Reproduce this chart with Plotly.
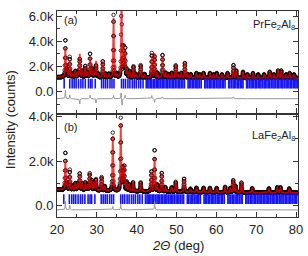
import numpy as np
import plotly.graph_objects as go
from plotly.subplots import make_subplots

# ---------------- data ----------------
# two-theta sampling of the measured pattern (deg)
tth_start, tth_stop, tth_step = 20.0, 80.5, 0.04

# PrFe2Al8 (panel a): background knots and peak list (pos deg, height counts above bg)
pr_bg_pos = [20, 40, 60, 80.5]
pr_bg_val = [1150, 1100, 1080, 1080]
pr_peak_pos = [22.1, 22.5, 23.2, 23.9, 24.6, 25.2, 25.7, 26.3, 27.1, 27.6, 28.3, 28.8,
               29.3, 29.8, 30.3, 31.5, 32.2, 33.0, 34.2, 35.0, 36.2, 36.7, 37.1, 37.6,
               38.2, 39.2, 39.8, 41.0, 42.0, 43.8, 44.5, 45.2, 46.5, 47.3, 48.0, 48.8,
               49.8, 50.4, 51.2, 52.1, 52.8, 53.6, 55.0, 55.8, 56.8, 58.4, 59.3, 60.1,
               61.4, 62.8, 64.3, 65.0, 66.7, 67.8, 69.2, 70.5, 72.0, 73.4, 74.4, 75.5,
               76.3, 77.5, 78.4, 79.5]
pr_peak_int = [2300, 600, 1300, 300, 500, 400, 1900, 500, 900, 400, 1600, 700,
               500, 1300, 300, 1300, 300, 300, 4700, 300, 6500, 2400, 2000, 600,
               500, 900, 300, 1000, 300, 1700, 2000, 400, 1700, 400, 300, 400,
               1000, 300, 400, 1200, 300, 300, 400, 300, 400, 400, 300, 400,
               300, 400, 900, 600, 500, 300, 400, 300, 300, 500, 300, 600,
               600, 300, 400, 300]
# residual (obs - calc) features: position, amplitude
pr_res_pos = [22.1, 23.2, 25.7, 28.3, 29.8, 34.2, 36.1, 36.35, 37.1, 43.8, 44.5, 46.5, 64.3]
pr_res_amp = [700, 300, -450, 300, -350, 250, 500, -550, 300, 250, -300, 150, 150]
pr_diff_offset = -550
pr_bragg_y = 650

# LaFe2Al8 (panel b)
la_bg_pos = [20, 40, 60, 80.5]
la_bg_val = [720, 650, 600, 580]
la_peak_pos = [22.1, 22.5, 23.2, 24.0, 24.6, 25.2, 25.7, 26.3, 27.1, 27.6, 28.2, 28.7,
               29.3, 29.8, 31.2, 32.0, 34.0, 36.0, 36.5, 36.9, 37.5, 38.1, 39.1, 41.0,
               43.7, 44.5, 45.2, 46.3, 47.2, 48.8, 49.8, 51.9, 53.5, 55.0, 56.8, 58.4,
               60.1, 62.2, 63.5, 64.25, 64.8, 66.3, 69.0, 73.2, 75.3, 76.1, 78.3]
la_peak_int = [1300, 300, 700, 200, 300, 300, 750, 300, 350, 250, 750, 450,
               350, 500, 600, 200, 2450, 3000, 1000, 1100, 400, 300, 400, 400,
               900, 1500, 300, 850, 200, 200, 450, 600, 150, 200, 200, 200,
               200, 250, 200, 550, 300, 450, 200, 200, 250, 250, 200]
la_res_pos = [22.1, 23.2, 34.0, 36.0, 44.5]
la_res_amp = [400, 200, 150, 250, 400]
la_diff_offset = -180
la_bragg_y = 300

# Bragg reflection positions (deg)
pr_bragg = [21.8, 23.2, 23.8, 24.3, 24.8, 25.4, 26.0, 26.5, 27.1, 27.9, 28.4, 28.8, 29.6,
            31.2, 31.7, 32.2, 32.7, 33.3, 33.8, 34.3, 36.2, 36.7, 37.2, 37.8, 38.3, 38.9,
            39.4, 39.9, 40.5, 41.0, 41.6, 42.4, 42.8, 43.1, 43.5, 43.8, 44.2, 44.5, 44.9,
            45.3, 45.6, 46.0, 46.4, 46.7, 47.1, 47.5, 47.8, 48.2, 48.6, 49.0, 49.3, 49.7,
            50.1, 50.5, 50.8, 51.2, 51.6, 52.0, 52.9, 53.2, 53.6, 54.0, 54.3, 54.7, 55.1,
            55.4, 55.8, 56.2, 57.1, 57.4, 57.8, 58.2, 58.5, 58.9, 59.3, 59.6, 60.0, 60.4,
            60.7, 61.1, 61.5, 61.8, 62.2, 63.1, 63.4, 63.8, 64.2, 64.5, 64.9, 65.3, 65.6,
            66.0, 66.4, 66.7, 67.6, 67.9, 68.3, 68.7, 69.0, 69.4, 69.8, 70.1, 70.5, 70.9,
            71.2, 71.6, 72.0, 72.3, 72.7, 73.1, 73.4, 73.8, 74.2, 74.5, 74.9, 75.3, 75.6,
            76.0, 76.4, 76.7, 77.1, 77.5, 77.8, 78.2, 78.6, 78.9, 79.3, 79.7, 80.0, 80.3]
la_bragg = [21.7, 23.1, 23.7, 24.2, 24.7, 25.3, 25.9, 26.4, 27.0, 27.8, 28.3, 28.7, 29.5,
            31.1, 31.6, 32.1, 32.6, 33.2, 33.7, 34.2, 36.0, 36.5, 37.0, 37.6, 38.1, 38.7,
            39.2, 39.7, 40.3, 40.8, 41.4, 42.2, 42.6, 42.9, 43.3, 43.6, 44.0, 44.3, 44.7,
            45.1, 45.4, 45.8, 46.2, 46.5, 46.9, 47.3, 47.6, 48.0, 48.4, 48.8, 49.1, 49.5,
            49.9, 50.3, 50.6, 51.0, 51.4, 51.8, 52.7, 53.0, 53.4, 53.8, 54.1, 54.5, 54.9,
            55.2, 55.6, 56.0, 56.9, 57.2, 57.6, 58.0, 58.3, 58.7, 59.1, 59.4, 59.8, 60.2,
            60.5, 60.9, 61.3, 61.6, 62.0, 62.9, 63.2, 63.6, 64.0, 64.3, 64.7, 65.1, 65.4,
            65.8, 66.2, 66.5, 67.4, 67.7, 68.1, 68.5, 68.8, 69.2, 69.6, 69.9, 70.3, 70.7,
            71.0, 71.4, 71.8, 72.1, 72.5, 72.9, 73.2, 73.6, 74.0, 74.3, 74.7, 75.1, 75.4,
            75.8, 76.2, 76.5, 76.9, 77.3, 77.6, 78.0, 78.4, 78.7, 79.1, 79.5, 79.8, 80.2]

peak_fwhm = 0.22
res_fwhm = 0.15

# ---------------- profile construction ----------------
tth = np.arange(tth_start, tth_stop + 1e-9, tth_step)


def profile(pos, amp, fwhm):
    y = np.zeros_like(tth)
    hw = fwhm / 2.0
    for p, a in zip(pos, amp):
        lor = 1.0 / (1.0 + ((tth - p) / hw) ** 2)
        gau = np.exp(-np.log(2) * ((tth - p) / hw) ** 2)
        y += a * (0.5 * lor + 0.5 * gau)
    return y


def pattern(bg_pos, bg_val, ppos, pint, rpos, ramp):
    calc = np.interp(tth, bg_pos, bg_val) + profile(ppos, pint, peak_fwhm)
    res = profile(rpos, ramp, res_fwhm)
    return calc, calc + res, res


pr_calc, pr_obs, pr_res = pattern(pr_bg_pos, pr_bg_val, pr_peak_pos, pr_peak_int, pr_res_pos, pr_res_amp)
la_calc, la_obs, la_res = pattern(la_bg_pos, la_bg_val, la_peak_pos, la_peak_int, la_res_pos, la_res_amp)

# ---------------- figure ----------------
fig = make_subplots(rows=2, cols=1, shared_xaxes=True, vertical_spacing=0.014)

FONT = "Liberation Sans, Arial, sans-serif"


def add_panel(row, calc, obs, res, offset, bragg, bragg_y):
    fig.add_trace(go.Scatter(x=tth, y=obs, mode="markers",
                             marker=dict(symbol="circle-open", size=3.5, color="black",
                                         line=dict(width=0.8, color="black")),
                             showlegend=False), row=row, col=1)
    fig.add_trace(go.Scatter(x=tth, y=calc, mode="lines",
                             line=dict(color="rgba(235,0,0,0.75)", width=1.8),
                             showlegend=False), row=row, col=1)
    fig.add_trace(go.Scatter(x=bragg, y=[bragg_y] * len(bragg), mode="markers",
                             marker=dict(symbol="line-ns", size=7, color="blue",
                                         line=dict(width=1.6, color="rgb(20,20,255)")),
                             showlegend=False), row=row, col=1)
    fig.add_trace(go.Scatter(x=tth, y=offset + res, mode="lines",
                             line=dict(color="rgb(150,150,150)", width=1),
                             showlegend=False), row=row, col=1)


add_panel(1, pr_calc, pr_obs, pr_res, pr_diff_offset, pr_bragg, pr_bragg_y)
add_panel(2, la_calc, la_obs, la_res, la_diff_offset, la_bragg, la_bragg_y)

axis_common = dict(showline=True, mirror="ticks", linecolor="#333", linewidth=1,
                   ticks="inside", ticklen=5, tickwidth=1, tickcolor="#333",
                   showgrid=False, zeroline=False,
                   tickfont=dict(family=FONT, size=13, color="#222"))

fig.update_xaxes(range=[20, 80.5], tickmode="linear", tick0=20, dtick=10,
                 minor=dict(ticks="inside", ticklen=3, dtick=5, tick0=20, tickcolor="#333"),
                 **axis_common)
fig.update_xaxes(showticklabels=False, row=1, col=1)
fig.update_yaxes(tickmode="linear", tick0=0, dtick=2000, tickformat=".2s",
                 minor=dict(ticks="inside", ticklen=3, dtick=1000, tick0=0, tickcolor="#333"),
                 **axis_common)
fig.update_yaxes(range=[-1650, 6400], row=1, col=1)
fig.update_yaxes(range=[-500, 4050], row=2, col=1)

fig.update_layout(
    width=308, height=256,
    margin=dict(l=57, r=9, t=5, b=39),
    plot_bgcolor="white", paper_bgcolor="white",
    font=dict(family=FONT, size=13, color="#222"),
    annotations=[
        dict(text="(a)", x=0.022, y=0.955, xref="paper", yref="paper",
             xanchor="left", yanchor="middle", showarrow=False,
             font=dict(family=FONT, size=11, color="#222")),
        dict(text="(b)", x=0.022, y=0.435, xref="paper", yref="paper",
             xanchor="left", yanchor="middle", showarrow=False,
             font=dict(family=FONT, size=11, color="#222")),
        dict(text="PrFe<sub>2</sub>Al<sub>8</sub>", x=0.995, y=0.93, xref="paper", yref="paper",
             xanchor="right", yanchor="middle", showarrow=False,
             font=dict(family=FONT, size=11, color="#222")),
        dict(text="LaFe<sub>2</sub>Al<sub>8</sub>", x=0.995, y=0.395, xref="paper", yref="paper",
             xanchor="right", yanchor="middle", showarrow=False,
             font=dict(family=FONT, size=11, color="#222")),
        dict(text="Intensity (counts)", x=-0.195, y=0.47, xref="paper", yref="paper",
             xanchor="center", yanchor="middle", textangle=-90, showarrow=False,
             font=dict(family=FONT, size=13, color="#222")),
        dict(text="<i>2Θ</i> (deg)", x=0.5, y=-0.137, xref="paper", yref="paper",
             xanchor="center", yanchor="middle", showarrow=False,
             font=dict(family=FONT, size=13, color="#222")),
    ],
)

fig.write_html("out.html", config={"displayModeBar": False},
               post_script="document.body.style.margin='0';document.body.style.overflow='hidden';")
